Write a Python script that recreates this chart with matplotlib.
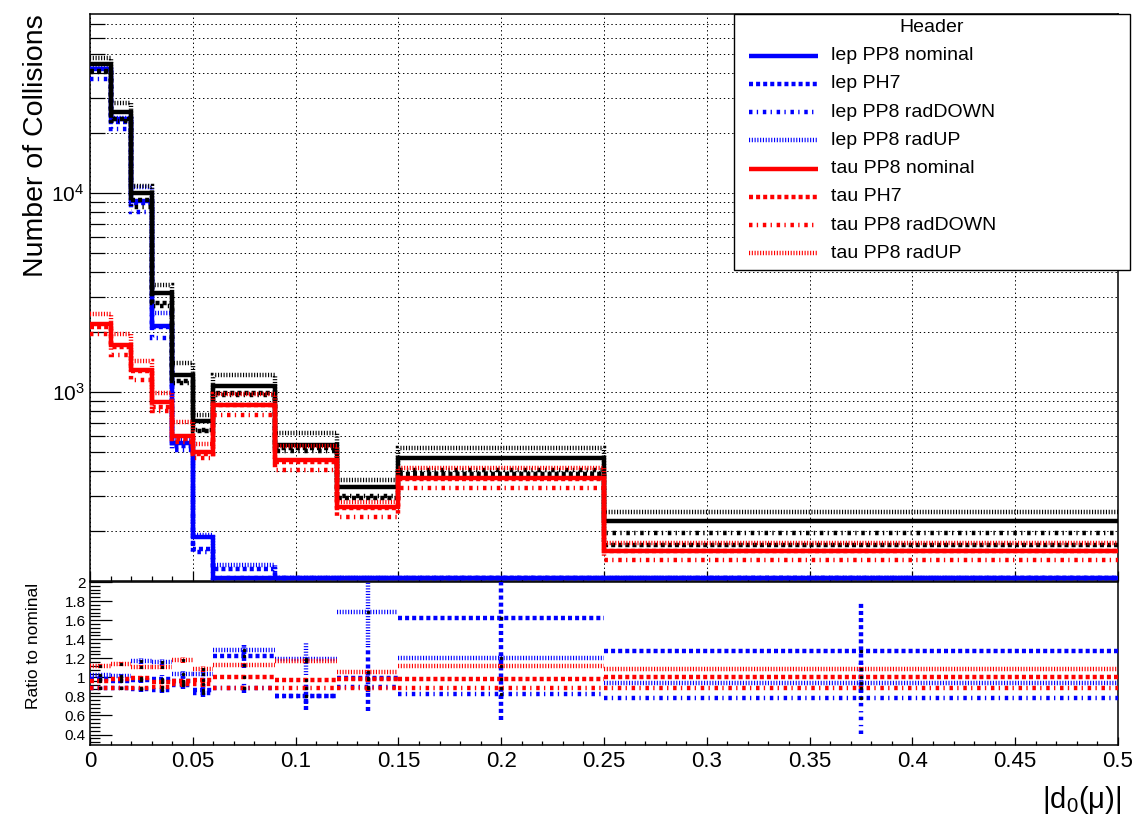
import numpy as np
import matplotlib as mpl
mpl.use('Agg')
import matplotlib.pyplot as plt
from matplotlib.patches import Rectangle
from matplotlib.ticker import LogLocator, NullFormatter, MultipleLocator, FuncFormatter

plt.rcParams['font.family'] = ['Liberation Sans', 'DejaVu Sans']
plt.rcParams['lines.scale_dashes'] = False
plt.rcParams['mathtext.fontset'] = 'custom'
plt.rcParams['mathtext.rm'] = 'Liberation Sans'
plt.rcParams['mathtext.it'] = 'Liberation Sans:italic'

# bin edges in |d0(mu)|
edges = [0, 0.01, 0.02, 0.03, 0.04, 0.05, 0.06, 0.09, 0.12, 0.15, 0.25, 0.5]

# nominal yields
lep_nom = [42000, 23500, 9100, 2150, 555, 186, 105, 62, 50, 60, 64]
tau_nom = [2190, 1720, 1290, 886, 600, 500, 861, 455, 265, 370, 159]

# ratio to nominal (lower pad)
lep_ph7 = [0.98, 0.96, 0.97, 0.98, 0.96, 0.87, 1.22, 0.80, 0.99, 1.62, 1.28]
lep_down = [0.89, 0.89, 0.88, 0.87, 0.92, 0.84, 0.89, 0.80, 0.90, 0.83, 0.78]
lep_up = [1.02, 1.01, 1.17, 1.16, 1.03, 1.03, 1.29, 1.19, 1.69, 1.20, 0.945]
lep_ph7_err = [0.02, 0.02, 0.03, 0.04, 0.05, 0.06, 0.12, 0.14, 0.34, 1.07, 0.52]
lep_down_err = [0.02, 0.02, 0.03, 0.03, 0.04, 0.05, 0.05, 0.08, 0.05, 0.06, 0.37]
lep_up_err = [0.02, 0.02, 0.03, 0.03, 0.04, 0.05, 0.05, 0.17, 0.35, 0.06, 0.05]

tau_ph7 = [0.96, 0.98, 0.99, 0.95, 0.96, 0.97, 1.00, 0.97, 0.98, 0.98, 1.00]
tau_down = [0.89, 0.89, 0.89, 0.90, 0.93, 0.93, 0.89, 0.89, 0.89, 0.89, 0.893]
tau_up = [1.12, 1.14, 1.11, 1.11, 1.18, 1.09, 1.13, 1.17, 1.06, 1.12, 1.09]
tau_err = [0.02, 0.02, 0.02, 0.02, 0.03, 0.03, 0.02, 0.02, 0.03, 0.02, 0.02]

# combined (black) histograms, not in the legend
tot_nom = [44500, 25500, 9980, 3130, 1217, 710, 1063, 542, 334, 464, 223]
tot_ph7 = [41000, 23500, 9200, 2800, 1127, 632, 985, 520, 292, 387, 170]
tot_down = [40500, 23000, 8500, 2700, 1100, 640, 960, 505, 300, 405, 196]
tot_up = [47700, 28250, 10770, 3450, 1394, 766, 1217, 620, 361, 523, 250]

legend_labels = ["lep PP8 nominal", "lep PH7", "lep PP8 radDOWN", "lep PP8 radUP",
                 "tau PP8 nominal", "tau PH7", "tau PP8 radDOWN", "tau PP8 radUP"]

LW = 3.2
styles = {
    'nominal': '-',
    'PH7': (0, (2.9, 2.2)),
    'radDOWN': (0, (2.5, 3.1, 0.95, 3.4)),
    'radUP': (0, (0.8, 1.2)),
}
BLUE = '#0000ff'
RED = '#ff0000'

ymin, ymax = 112, 79000
# underflowing bins are drawn sitting on the frame, like ROOT does
floor = ymin * 1.03
edges = np.array(edges)
centers = (edges[:-1] + edges[1:]) / 2

W, H = 1140, 830
fig = plt.figure(figsize=(W / 100, H / 100), dpi=100)
ax = fig.add_axes([90 / W, 1 - 581 / H, 1028 / W, 567 / H])
rax = fig.add_axes([90 / W, 1 - 745 / H, 1028 / W, 163 / H])


def draw_hist(vals, color, ls):
    vals = np.clip(np.array(vals, dtype=float), floor, None)
    ax.stairs(vals, edges, baseline=None, color=color, lw=LW, linestyle=ls, zorder=3)


def draw_ratio(r, err, color, ls):
    r = np.array(r)
    err = np.array(err)
    rax.hlines(r, edges[:-1], edges[1:], colors=color, lw=LW, linestyles=[ls], zorder=3)
    rax.vlines(centers, r - err, r + err, colors=color, lw=LW, linestyles=[ls], zorder=3)
    rax.plot(centers, r, 's', color='k', ms=1.3, zorder=4)


lep = np.array(lep_nom, dtype=float)
tau = np.array(tau_nom, dtype=float)

# upper pad: lep, then total, then tau
draw_hist(lep, BLUE, styles['nominal'])
draw_hist(lep * lep_ph7, BLUE, styles['PH7'])
draw_hist(lep * lep_down, BLUE, styles['radDOWN'])
draw_hist(lep * lep_up, BLUE, styles['radUP'])

draw_hist(tot_nom, 'k', styles['nominal'])
draw_hist(tot_ph7, 'k', styles['PH7'])
draw_hist(tot_down, 'k', styles['radDOWN'])
draw_hist(tot_up, 'k', styles['radUP'])

draw_hist(tau, RED, styles['nominal'])
draw_hist(tau * tau_ph7, RED, styles['PH7'])
draw_hist(tau * tau_down, RED, styles['radDOWN'])
draw_hist(tau * tau_up, RED, styles['radUP'])

ax.set_yscale('log')
ax.set_xlim(0, 0.5)
ax.set_ylim(ymin, ymax)
ax.yaxis.set_major_locator(LogLocator(base=10, subs=(1.0,)))
ax.yaxis.set_minor_locator(LogLocator(base=10, subs=np.arange(2, 10)))
ax.yaxis.set_minor_formatter(NullFormatter())
ax.xaxis.set_major_locator(MultipleLocator(0.05))
ax.xaxis.set_minor_locator(MultipleLocator(0.01))
ax.set_axisbelow(True)
ax.grid(True, which='major', axis='x', color='k', lw=0.7, linestyle=(0, (1, 2)))
ax.grid(True, which='both', axis='y', color='k', lw=0.7, linestyle=(0, (1, 2)))
ax.tick_params(axis='y', which='major', direction='in', length=22, width=0.9, labelsize=15, pad=4)
ax.tick_params(axis='y', which='minor', direction='in', length=11, width=0.9)
ax.tick_params(axis='x', which='major', direction='in', length=7, width=0.9, labelbottom=False)
ax.tick_params(axis='x', which='minor', direction='in', length=3.6, width=0.9)

# lower pad: ratios
draw_ratio(lep_ph7, lep_ph7_err, BLUE, styles['PH7'])
draw_ratio(lep_down, lep_down_err, BLUE, styles['radDOWN'])
draw_ratio(lep_up, lep_up_err, BLUE, styles['radUP'])
draw_ratio(tau_ph7, tau_err, RED, styles['PH7'])
draw_ratio(tau_down, tau_err, RED, styles['radDOWN'])
draw_ratio(tau_up, tau_err, RED, styles['radUP'])

rax.set_xlim(0, 0.5)
rax.set_ylim(0.29, 2.0)
rax.xaxis.set_major_locator(MultipleLocator(0.05))
rax.xaxis.set_minor_locator(MultipleLocator(0.01))
rax.yaxis.set_major_locator(MultipleLocator(0.2))
rax.yaxis.set_minor_locator(MultipleLocator(0.04))
fmt = FuncFormatter(lambda v, p: f"{round(v, 2):g}")
rax.xaxis.set_major_formatter(fmt)
rax.yaxis.set_major_formatter(fmt)
rax.tick_params(axis='x', which='major', direction='in', length=5.8, width=0.9, labelsize=16, pad=4)
rax.tick_params(axis='x', which='minor', direction='in', length=2.9, width=0.9)
rax.tick_params(axis='y', which='major', direction='in', length=16, width=0.9, labelsize=11, pad=3)
rax.tick_params(axis='y', which='minor', direction='in', length=7.2, width=0.9)

for a in (ax, rax):
    for s in a.spines.values():
        s.set_linewidth(1.1)

fig.text(36 / W, 1 - 14 / H, "Number of Collisions", rotation=90, ha='center', va='top', fontsize=20.5)
fig.text(34 / W, 1 - 583 / H, "Ratio to nominal", rotation=90, ha='center', va='top', fontsize=12.5)
fig.text(1121 / W, 1 - 784 / H, r'$|\mathrm{d}_{0}(\mathrm{\mu})|$', ha='right', va='top', fontsize=21)

# legend box drawn in pixel space, ROOT TLegend style
lax = fig.add_axes([0, 0, 1, 1], zorder=5)
lax.set_xlim(0, W)
lax.set_ylim(H, 0)
lax.axis('off')
lax.add_patch(Rectangle((734, 14), 396, 256, facecolor='white', edgecolor='black', lw=1.0))
lax.text(932, 27, "Header", ha='center', va='center', fontsize=14)
legend_colors = [BLUE] * 4 + [RED] * 4
legend_styles = [styles[k] for k in ('nominal', 'PH7', 'radDOWN', 'radUP')] * 2
for i, lab in enumerate(legend_labels):
    yy = 55.8 + 28.2 * i
    lax.plot([748.5, 817.5], [yy, yy], color=legend_colors[i], lw=LW, linestyle=legend_styles[i],
             solid_capstyle='butt')
    lax.text(831, yy, lab, ha='left', va='center', fontsize=14)

fig.savefig("out.png", dpi=100)
